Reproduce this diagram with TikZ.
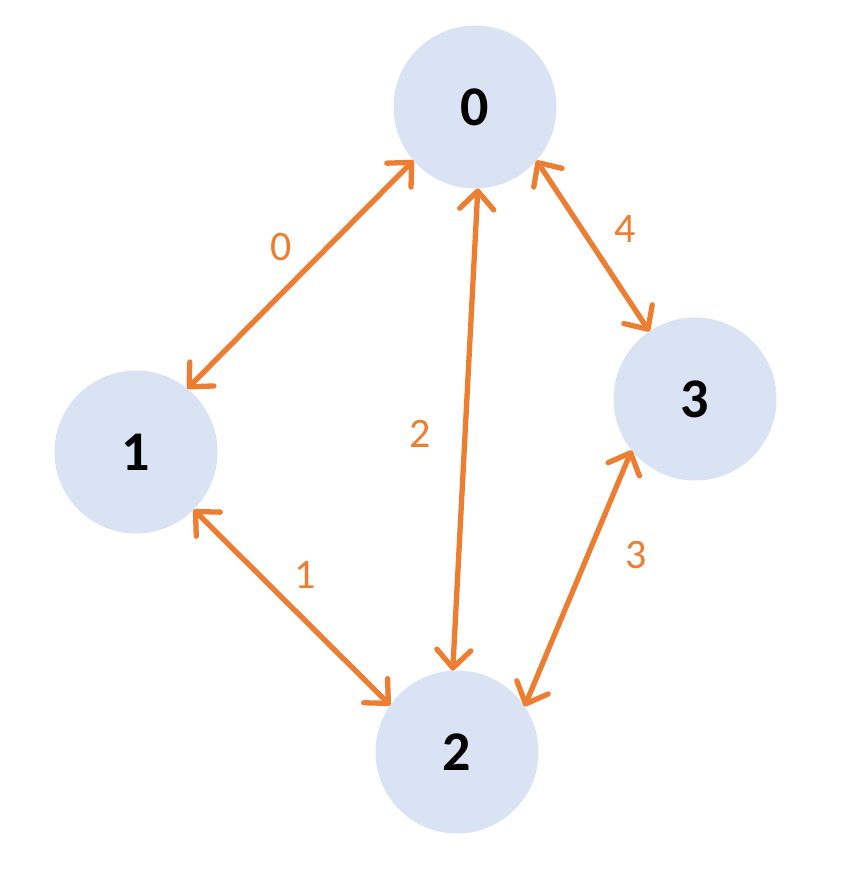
\documentclass[tikz,border=0pt]{standalone}
\usepackage{fontspec}
\setmainfont{Carlito}
\usetikzlibrary{arrows.meta}
\definecolor{edgeor}{HTML}{ED7D31}
\definecolor{nodebl}{HTML}{DAE3F3}
\tikzset{
  vert/.style={circle, fill=nodebl, minimum size=163pt, inner sep=0pt, outer sep=0pt, font=\fontsize{56}{60}\selectfont\bfseries},
  link/.style={draw=edgeor, line width=5.3pt, line cap=round, {Straight Barb[length=18pt,width=34pt,round]}-{Straight Barb[length=18pt,width=34pt,round]}},
  wlabel/.style={text=edgeor, font=\fontsize{42}{46}\selectfont}
}
\begin{document}
\begin{tikzpicture}[x=1pt,y=-1pt]
\useasboundingbox (0,0) rectangle (842,870);
\node[vert] (n0) at (475,107) {0};
\node[vert] (n1) at (136,452) {1};
\node[vert] (n2) at (457,752) {2};
\node[vert] (n3) at (695,399) {3};
\draw[link] (n0.221) -- (n1.51);
\draw[link] (n0.272) -- (n2.93);
\draw[link] (n0.319) -- (n3.124);
\draw[link] (n1.315) -- (n2.145);
\draw[link] (n2.34) -- (n3.219);
\node[wlabel] (l0) at (281,247) {0};
\node[wlabel] (l2) at (420,434) {2};
\node[wlabel] (l4) at (625,229) {4};
\node[wlabel] (l1) at (305,575) {1};
\node[wlabel] (l3) at (636,555) {3};
\end{tikzpicture}
\end{document}
